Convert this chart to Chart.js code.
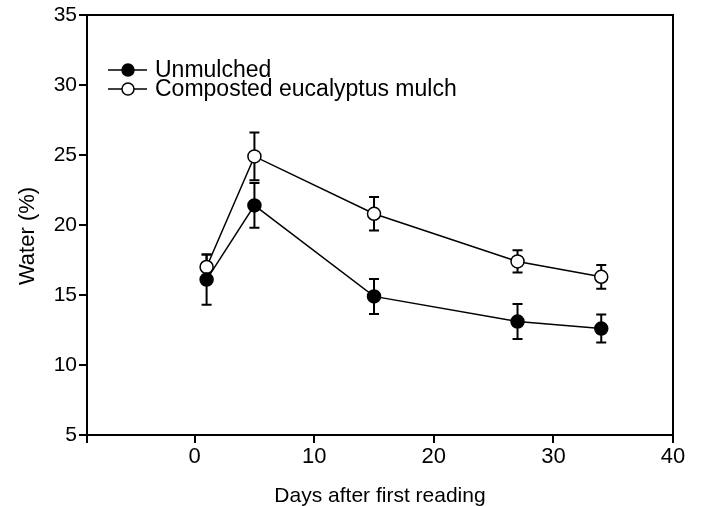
<!DOCTYPE html>
<html>
<head>
<meta charset="utf-8">
<script src="https://cdn.jsdelivr.net/npm/chart.js@4"></script>
<style>
  html, body { margin: 0; padding: 0; background: #fff; }
  #wrap { width: 704px; height: 506px; }
</style>
</head>
<body>
<div id="wrap"><canvas id="myChart"></canvas></div>
<script>
// values
const days = [1, 5, 15, 27, 34];
const unmulched = [16.1, 21.4, 14.9, 13.1, 12.6];
const unmulchedErr = [1.8, 1.6, 1.25, 1.25, 1.0];
const mulched = [17.0, 24.9, 20.8, 17.4, 16.3];
const mulchedErr = [0.9, 1.7, 1.2, 0.8, 0.85];
const xTicks = [-9, 0, 10, 20, 30, 40];
const seriesNames = ['Unmulched', 'Composted eucalyptus mulch'];
const yTitle = 'Water (%)';

const FONT = '"Liberation Sans", Arial, Helvetica, sans-serif';

function toPoints(ys) {
  return days.map(function (d, i) { return { x: d, y: ys[i] }; });
}

// error bars go under the points
const errorBars = {
  id: 'errorBars',
  beforeDatasetsDraw(chart) {
    const ctx = chart.ctx;
    const xs = chart.scales.x;
    const ys = chart.scales.y;
    ctx.save();
    ctx.strokeStyle = '#000';
    ctx.lineWidth = 2;
    chart.data.datasets.forEach(function (ds) {
      ds.data.forEach(function (p, i) {
        const e = ds.errors[i];
        const x = xs.getPixelForValue(p.x);
        const top = ys.getPixelForValue(p.y + e);
        const bot = ys.getPixelForValue(p.y - e);
        ctx.beginPath();
        ctx.moveTo(x, top); ctx.lineTo(x, bot);
        ctx.moveTo(x - 5, top); ctx.lineTo(x + 5, top);
        ctx.moveTo(x - 5, bot); ctx.lineTo(x + 5, bot);
        ctx.stroke();
      });
    });
    ctx.restore();
  }
};

// box round the plot, legend inside it, y title
const frameAndLegend = {
  id: 'frameAndLegend',
  afterDraw(chart) {
    const ctx = chart.ctx;
    const a = chart.chartArea;
    ctx.save();
    ctx.strokeStyle = '#000';
    ctx.lineWidth = 2;
    ctx.strokeRect(a.left, a.top, a.right - a.left, a.bottom - a.top);

    const rows = [{ y: 70, fill: '#000' }, { y: 89, fill: '#fff' }];
    ctx.font = '23px ' + FONT;
    ctx.textBaseline = 'middle';
    ctx.fillStyle = '#000';
    rows.forEach(function (r, i) {
      ctx.lineWidth = 1.5;
      ctx.beginPath();
      ctx.moveTo(108, r.y); ctx.lineTo(147, r.y);
      ctx.stroke();
      ctx.beginPath();
      ctx.arc(128, r.y, 6, 0, Math.PI * 2);
      ctx.fillStyle = r.fill;
      ctx.fill();
      ctx.stroke();
      ctx.fillStyle = '#000';
      ctx.fillText(seriesNames[i], 155, r.y + 1);
    });

    ctx.translate(28, 236);
    ctx.rotate(-Math.PI / 2);
    ctx.textAlign = 'center';
    ctx.font = '22px ' + FONT;
    ctx.fillText(yTitle, 0, 0);
    ctx.restore();
  }
};

const chart = new Chart(document.getElementById('myChart'), {
  type: 'line',
  data: {
    datasets: [
      {
        label: seriesNames[0],
        data: toPoints(unmulched),
        errors: unmulchedErr,
        borderColor: '#000',
        borderWidth: 1.5,
        pointRadius: 6.5,
        pointBackgroundColor: '#000',
        pointBorderColor: '#000',
        pointBorderWidth: 1.5,
        tension: 0
      },
      {
        label: seriesNames[1],
        data: toPoints(mulched),
        errors: mulchedErr,
        borderColor: '#000',
        borderWidth: 1.5,
        pointRadius: 6.5,
        pointBackgroundColor: '#fff',
        pointBorderColor: '#000',
        pointBorderWidth: 1.5,
        tension: 0
      }
    ]
  },
  options: {
    responsive: true,
    maintainAspectRatio: false,
    animation: false,
    layout: { padding: { left: 0, right: 31, top: 15, bottom: 0 } },
    plugins: {
      legend: { display: false },
      tooltip: { enabled: false }
    },
    scales: {
      x: {
        type: 'linear',
        min: -9,
        max: 40,
        afterBuildTicks(axis) {
          axis.ticks = xTicks.map(function (v) { return { value: v }; });
        },
        afterFit(axis) { axis.height = 71; },
        ticks: {
          color: '#000',
          font: { family: FONT, size: 22 },
          padding: 1,
          maxRotation: 0,
          callback: function (v) { return v < 0 ? '' : v; }
        },
        grid: { drawOnChartArea: false, drawTicks: true, tickLength: 8, color: '#000', lineWidth: 2 },
        border: { color: '#000', width: 2 },
        title: {
          display: true,
          text: 'Days after first reading',
          color: '#000',
          font: { family: FONT, size: 21 },
          padding: { top: 0, bottom: -3 }
        }
      },
      y: {
        min: 5,
        max: 35,
        afterFit(axis) { axis.width = 87; },
        ticks: {
          stepSize: 5,
          color: '#000',
          font: { family: FONT, size: 21 },
          padding: 2
        },
        grid: { drawOnChartArea: false, drawTicks: true, tickLength: 8, color: '#000', lineWidth: 2 },
        border: { color: '#000', width: 2 },
        title: { display: false }
      }
    }
  },
  plugins: [errorBars, frameAndLegend]
});
</script>
</body>
</html>
